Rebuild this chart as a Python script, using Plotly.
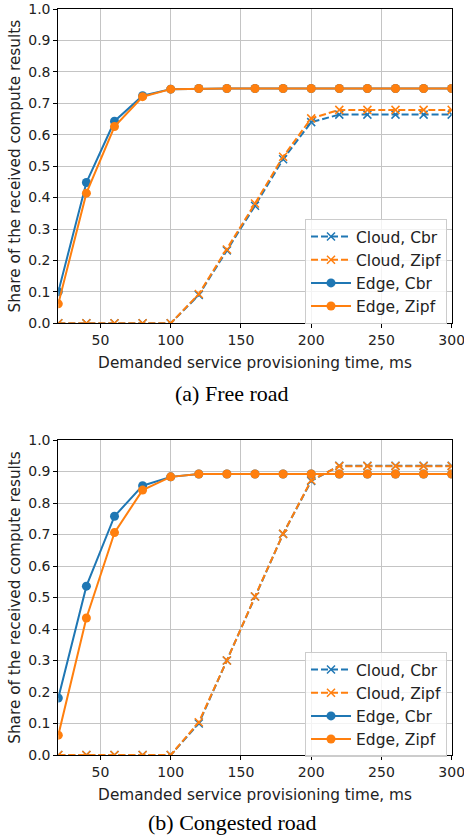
import plotly.graph_objects as go

x_ms = [20, 40, 60, 80, 100, 120, 140, 160, 180, 200, 220, 240, 260, 280, 300]

# (a) Free road
free_cloud_cbr = [0, 0, 0, 0, 0, 0.09, 0.232, 0.374, 0.522, 0.640, 0.664, 0.664, 0.664, 0.664, 0.664]
free_cloud_zipf = [0, 0, 0, 0, 0, 0.093, 0.235, 0.381, 0.530, 0.652, 0.679, 0.679, 0.679, 0.679, 0.679]
free_edge_cbr = [0.10, 0.448, 0.643, 0.724, 0.745, 0.747, 0.747, 0.747, 0.747, 0.747, 0.747, 0.747, 0.747, 0.747, 0.747]
free_edge_zipf = [0.062, 0.414, 0.626, 0.721, 0.745, 0.747, 0.747, 0.747, 0.747, 0.747, 0.747, 0.747, 0.747, 0.747, 0.747]

# (b) Congested road
cong_cloud_cbr = [0, 0, 0, 0, 0, 0.100, 0.300, 0.503, 0.702, 0.870, 0.918, 0.918, 0.918, 0.918, 0.918]
cong_cloud_zipf = [0, 0, 0, 0, 0, 0.104, 0.300, 0.503, 0.702, 0.872, 0.917, 0.917, 0.917, 0.917, 0.917]
cong_edge_cbr = [0.181, 0.536, 0.758, 0.855, 0.883, 0.892, 0.892, 0.892, 0.892, 0.892, 0.892, 0.892, 0.892, 0.892, 0.892]
cong_edge_zipf = [0.063, 0.435, 0.706, 0.841, 0.883, 0.892, 0.892, 0.892, 0.892, 0.892, 0.892, 0.892, 0.892, 0.892, 0.892]

names = ["Cloud, Cbr", "Cloud, Zipf", "Edge, Cbr", "Edge, Zipf"]
y_ticks = [0.0, 0.1, 0.2, 0.3, 0.4, 0.5, 0.6, 0.7, 0.8, 0.9, 1.0]
x_ticks = [50, 100, 150, 200, 250, 300]
captions = ["(a) Free road", "(b) Congested road"]

BLUE = "#1f77b4"
ORANGE = "#ff7f0e"
W, H = 464, 838

fig = go.Figure()

panels = [
    ([free_cloud_cbr, free_cloud_zipf, free_edge_cbr, free_edge_zipf], "x", "y", "legend"),
    ([cong_cloud_cbr, cong_cloud_zipf, cong_edge_cbr, cong_edge_zipf], "x2", "y2", "legend2"),
]
styles = [
    (BLUE, "dash", "x-thin-open"),
    (ORANGE, "dash", "x-thin-open"),
    (BLUE, "solid", "circle"),
    (ORANGE, "solid", "circle"),
]

for series, xa, ya, lg in panels:
    for i, (vals, name, (col, dash, sym)) in enumerate(zip(series, names, styles)):
        if sym == "circle":
            marker = dict(symbol="circle", size=9, color=col, line=dict(width=0))
        else:
            marker = dict(symbol="x-thin-open", size=8, color=col, line=dict(width=1.5, color=col))
        fig.add_trace(go.Scatter(
            x=x_ms, y=vals, name=name, mode="lines+markers",
            line=dict(color=col, width=2, dash="7px,3px" if dash == "dash" else "solid"),
            marker=marker, xaxis=xa, yaxis=ya, legend=lg, legendgroup=lg + str(i),
        ))

xdom = [58.3 / W, 451.7 / W]
ydom1 = [(H - 323.3) / H, (H - 9) / H]
ydom2 = [(H - 755) / H, (H - 440) / H]

axis_font = dict(family="DejaVu Sans", size=14, color="#222222")
title_font = dict(family="DejaVu Sans", size=15.3, color="#222222")
xcommon = dict(range=[20, 300], tickvals=x_ticks, showgrid=True, gridcolor="#c4c4c4", gridwidth=1,
               showline=True, mirror=True, linecolor="black", linewidth=1, ticks="outside",
               ticklen=4, tickcolor="black", zeroline=False, tickfont=axis_font, automargin=False,
               ticklabeloverflow="allow",
               title=dict(text="Demanded service provisioning time, ms", font=title_font, standoff=10))
ycommon = dict(range=[0, 1.0], tickvals=y_ticks, tickformat=".1f", showgrid=True, gridcolor="#c4c4c4", gridwidth=1,
               showline=True, mirror=True, linecolor="black", linewidth=1, ticks="outside",
               ticklen=4, tickcolor="black", zeroline=False, tickfont=axis_font, automargin=False,
               ticklabeloverflow="allow",
               title=dict(text="Share of the received compute results", font=title_font, standoff=3))

legend_common = dict(font=dict(family="DejaVu Sans", size=15.5, color="#222222"), bgcolor="rgba(255,255,255,0.8)",
                     bordercolor="#cccccc", borderwidth=1, xanchor="left", yanchor="top",
                     tracegroupgap=0, itemwidth=40)

fig.update_layout(
    width=W, height=H, margin=dict(l=0, r=0, t=0, b=0),
    paper_bgcolor="white", plot_bgcolor="white",
    xaxis=dict(domain=xdom, anchor="y", **xcommon),
    yaxis=dict(domain=ydom1, anchor="x", **ycommon),
    xaxis2=dict(domain=xdom, anchor="y2", **xcommon),
    yaxis2=dict(domain=ydom2, anchor="x2", **ycommon),
    legend=dict(x=305 / W, y=(H - 219) / H, **legend_common),
    legend2=dict(x=305 / W, y=(H - 652) / H, **legend_common),
    showlegend=True,
)

for cap, ypix in zip(captions, [393, 822]):
    fig.add_annotation(text=cap, x=0.5, y=(H - ypix) / H, xref="paper", yref="paper",
                       showarrow=False, font=dict(family="Liberation Serif", size=22, color="black"),
                       xanchor="center", yanchor="middle")

fig.write_html("out.html")
